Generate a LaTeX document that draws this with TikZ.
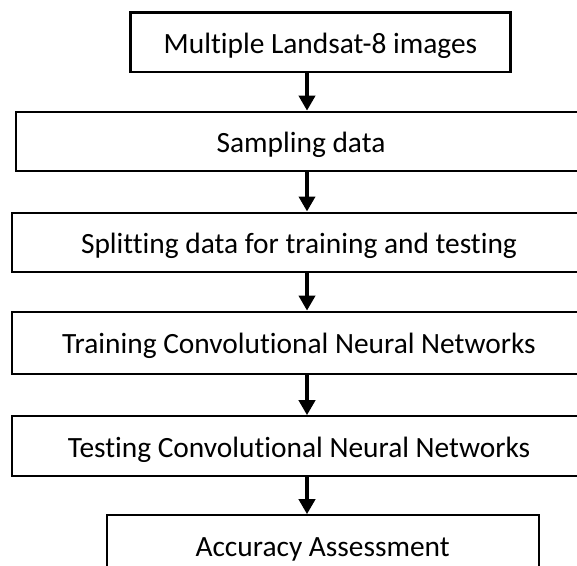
\documentclass[tikz,border=0pt]{standalone}
\usepackage{fontspec}
\setmainfont{Carlito}[Ligatures={NoCommon}]
\usetikzlibrary{arrows.meta}
\tikzset{
  stepbox/.style={draw=black, line width=2.2pt, fill=white, inner sep=0pt,
    minimum height=60pt, text height=24pt, text depth=2pt,
    font=\fontsize{29.4pt}{35pt}\selectfont},
  flow/.style={draw=black, line width=4.8pt,
    -{Triangle[width=16pt,length=15pt]}}
}
\begin{document}
\begin{tikzpicture}[x=1pt,y=1pt]
  \path[use as bounding box, clip] (0,0) rectangle (577,-565);

  \node[stepbox, minimum width=380, minimum height=59.5] (n1) at (320.5,-42.3) {Multiple Landsat-8 images};
  \node[stepbox, minimum width=570, minimum height=59.5] (n2) at (301,-141.5) {Sampling data};
  \node[stepbox, minimum width=574, minimum height=59.4] (n3) at (299,-242.3) {Splitting data for training and testing};
  \node[stepbox, minimum width=574, minimum height=62] (n4) at (299,-342.7) {Training Convolutional Neural Networks};
  \node[stepbox, minimum width=574] (n5) at (299,-446.3) {Testing Convolutional Neural Networks};
  \node[stepbox, minimum width=432] (n6) at (322.6,-545.3) {Accuracy Assessment};

  % vertical axis shared by all connectors
  \coordinate (ax) at (307,0);
  \draw[flow] (n1.south -| ax) -- (n2.north -| ax);
  \draw[flow] (n2.south -| ax) -- (n3.north -| ax);
  \draw[flow] (n3.south -| ax) -- (n4.north -| ax);
  \draw[flow] (n4.south -| ax) -- (n5.north -| ax);
  \draw[flow] (n5.south -| ax) -- (n6.north -| ax);
\end{tikzpicture}
\end{document}
